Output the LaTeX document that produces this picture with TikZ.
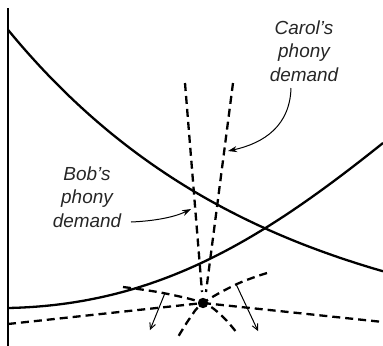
\documentclass[tikz,border=0pt]{standalone}
\usepackage{fontspec}
\setmainfont{Liberation Sans}
\usetikzlibrary{arrows.meta}
\tikzset{
  curve/.style={line width=2.3bp, line cap=butt},
  dashcurve/.style={line width=2.3bp, dash pattern=on 8bp off 5bp},
  label/.style={inner sep=0pt, align=center, font=\fontsize{19}{23.5}\selectfont\itshape, text=black!85},
  pointer/.style={line width=1bp, -{Stealth[length=9bp,width=6bp]}},
  shift arrow/.style={line width=1bp, -{Straight Barb[length=6bp,width=6bp]}}
}
\begin{document}
\begin{tikzpicture}[x=1bp,y=-1bp]
\useasboundingbox (0,0) rectangle (383,346);
% axis
\coordinate (axtop) at (8,8);
\coordinate (axbot) at (8,346);
\draw[line width=1.6bp] (axtop) -- (axbot);
% decreasing curve
\draw[curve] plot[domain=8:383, samples=60, smooth] (\x, {346-326*exp(-0.00385*\x)});
% increasing curve
\coordinate (sL) at (8,308);
\coordinate (sR) at (383,143);
\draw[curve] (sL) .. controls (158,305) and (263,239) .. (sR);
% equilibrium dot
\coordinate (E) at (203,303);
% steep dashed lines
\coordinate (btop) at (185,83);
\coordinate (bbot) at (202,292);
\coordinate (ctop) at (233,83);
\coordinate (cbot) at (206,292);
\draw[dashcurve] (btop) -- (bbot);
\draw[dashcurve] (ctop) -- (cbot);
% low dashed line
\coordinate (lowL) at (8,324);
\coordinate (lowR) at (383,322);
\draw[dashcurve] (lowL) -- (E);
\draw[dashcurve] (E) -- (lowR);
% arching dashed curves
\draw[dashcurve] plot[smooth, tension=0.6] coordinates {(123,287) (163,293) (203,303) (222,316) (237,333)};
\draw[dashcurve] plot[smooth, tension=0.6] coordinates {(267,273) (237,284) (203,303) (190,318) (178,337)};
\fill (E) circle (5.2bp);
% shift arrows
\coordinate (la1) at (165,293);
\coordinate (la2) at (150,330);
\coordinate (ra1) at (236,284);
\coordinate (ra2) at (258,331);
\draw[shift arrow] (la1) -- (la2);
\draw[shift arrow] (ra1) -- (ra2);
% labels
\node[label] (carol) at (304,51) {Carol’s\\phony\\demand};
\node[label] (bob) at (87,197) {Bob’s\\phony\\demand};
\coordinate (ctip) at (228,151);
\coordinate (btip) at (191,209);
\draw[pointer] (291,88) .. controls (290,125) and (265,143) .. (ctip);
\draw[pointer] (131,222) .. controls (155,221) and (175,217) .. (btip);
\end{tikzpicture}
\end{document}
